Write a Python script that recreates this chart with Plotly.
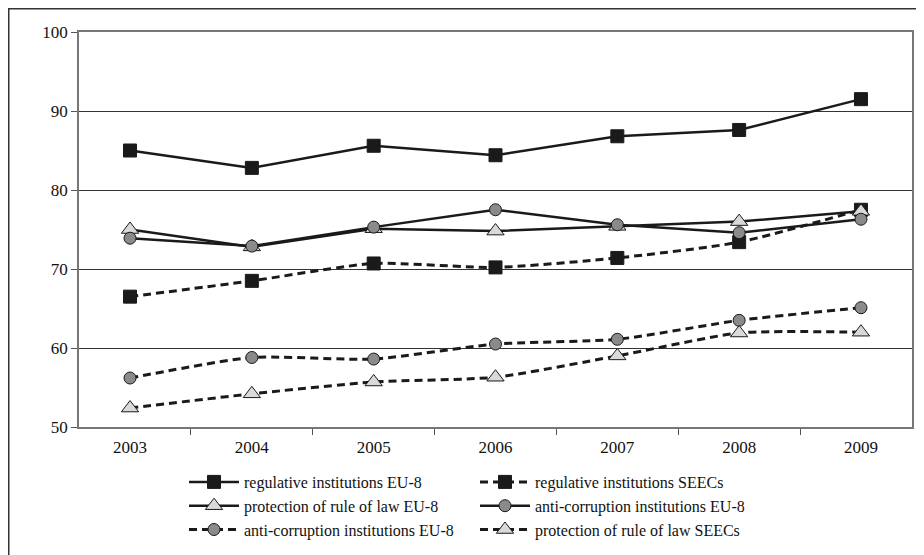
import plotly.graph_objects as go

years = ["2003", "2004", "2005", "2006", "2007", "2008", "2009"]

reg_eu8 = [85.0, 82.8, 85.6, 84.4, 86.8, 87.6, 91.5]
reg_seecs = [66.5, 68.5, 70.7, 70.2, 71.4, 73.4, 77.5]
prot_eu8 = [75.0, 72.8, 75.1, 74.8, 75.4, 76.0, 77.3]
anti_eu8 = [73.9, 72.9, 75.3, 77.5, 75.6, 74.6, 76.3]
anti_seecs = [56.2, 58.8, 58.6, 60.5, 61.1, 63.5, 65.1]
prot_seecs = [52.4, 54.2, 55.7, 56.3, 59.0, 61.9, 62.0]

names = [
    "regulative institutions EU-8",
    "regulative institutions SEECs",
    "protection of rule of law EU-8",
    "anti-corruption institutions EU-8",
    "anti-corruption institutions EU-8",
    "protection of rule of law SEECs",
]

FONT = "Liberation Serif"
INK = "#1a1a1a"
fig = go.Figure()

def add(vals, name, symbol, fill, dashed, size):
    fig.add_trace(go.Scatter(
        x=years, y=vals, name=name, mode="lines+markers",
        line=dict(color=INK, width=3 if dashed else 2.5,
                  dash="8px,5px" if dashed else "solid",
                  shape="spline" if dashed else "linear",
                  smoothing=0.6),
        marker=dict(symbol=symbol, size=size, color=fill,
                    line=dict(color=INK, width=1)),
    ))

add(reg_eu8, names[0], "square", INK, False, 13)
add(reg_seecs, names[1], "square", INK, True, 13)
add(prot_eu8, names[2], "triangle-up", "#d9d9d9", False, 15)
add(anti_eu8, names[3], "circle", "#8a8a8a", False, 12)
add(anti_seecs, names[4], "circle", "#8a8a8a", True, 12)
add(prot_seecs, names[5], "triangle-up", "#d9d9d9", True, 15)

# page body has an 8px margin, so the figure is laid out 8px smaller
W, H = 916, 547
L, T = 71, 24
pw, ph = 833, 395
R = W - L - pw
B = H - T - ph

def px(xp):  # figure pixel x -> paper
    return (xp - L) / pw

def py(yp):  # figure pixel y -> paper
    return (H - B - yp) / ph

fig.update_layout(
    width=W, height=H,
    margin=dict(l=L, r=R, t=T, b=B, pad=0, autoexpand=False),
    paper_bgcolor="white", plot_bgcolor="white",
    font=dict(family=FONT, size=17, color="#111"),
    showlegend=True,
    legend=dict(
        orientation="h", x=px(176), xanchor="left",
        y=py(457), yanchor="top",
        entrywidth=226, entrywidthmode="pixels",
        font=dict(family=FONT, size=16, color="#111"),
        itemwidth=50, tracegroupgap=0,
        bgcolor="rgba(0,0,0,0)",
    ),
    xaxis=dict(
        type="category", tickson="boundaries", ticks="outside", ticklen=6,
        tickcolor="#555", showline=True, linecolor="#777", linewidth=1.5,
        mirror=True, showgrid=False, zeroline=False,
        tickfont=dict(family=FONT, size=17), ticklabelstandoff=4,
    ),
    yaxis=dict(
        range=[50, 100], tickvals=[50, 60, 70, 80, 90, 100],
        ticks="outside", ticklen=6, tickcolor="#555",
        showline=True, linecolor="#777", linewidth=1.5, mirror=True,
        showgrid=True, gridcolor="#333", gridwidth=1, zeroline=False,
        tickfont=dict(family=FONT, size=17),
    ),
    shapes=[dict(
        type="rect", xref="paper", yref="paper",
        x0=px(0.5), x1=px(930),
        y0=py(570), y1=py(0.5),
        line=dict(color="#333", width=2), fillcolor="rgba(0,0,0,0)",
        layer="below",
    )],
)

fig.write_html("out.html")
